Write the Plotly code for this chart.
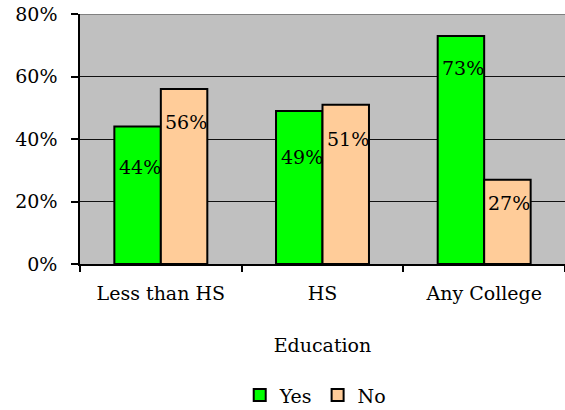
import plotly.graph_objects as go

categories = ["Less than HS", "HS", "Any College"]
yes_values = [0.44, 0.49, 0.73]
no_values = [0.56, 0.51, 0.27]
y_tick_values = [0, 0.2, 0.4, 0.6, 0.8]
y_tick_labels = ["0%", "20%", "40%", "60%", "80%"]

# label placement (style): distance in px from bar top down to label centre
yes_label_drop = [40, 46, 32]
no_label_drop = [33, 34, 23]

FONT = "DejaVu Serif"
FS = 19
GREEN = "#00FF00"
PEACH = "#FFCC99"

fig = go.Figure()
fig.add_trace(go.Bar(name="Yes", x=categories, y=yes_values,
                     marker=dict(color=GREEN, line=dict(color="black", width=2))))
fig.add_trace(go.Bar(name="No", x=categories, y=no_values,
                     marker=dict(color=PEACH, line=dict(color="black", width=2))))

annotations = []
for series, values, drops, xs in [("Yes", yes_values, yes_label_drop, -21),
                                  ("No", no_values, no_label_drop, 25)]:
    for c, v, d in zip(categories, values, drops):
        annotations.append(dict(x=c, y=v, xref="x", yref="y", text=f"{round(v*100)}%",
                                showarrow=False, xshift=xs, yshift=-d,
                                xanchor="center", yanchor="middle",
                                font=dict(family=FONT, size=FS, color="black")))

fig.update_layout(
    width=565, height=410,
    margin=dict(l=80, r=0, t=14, b=146, autoexpand=False),
    paper_bgcolor="white", plot_bgcolor="#C0C0C0",
    barmode="group", bargap=0.425, bargroupgap=0,
    font=dict(family=FONT, size=FS, color="black"),
    showlegend=True,
    legend=dict(orientation="h", x=0.485, xanchor="center", y=-0.525, yanchor="middle",
                font=dict(family=FONT, size=FS), itemwidth=30,
                bgcolor="rgba(0,0,0,0)"),
    annotations=annotations,
    shapes=[dict(type="line", xref="paper", yref="y", x0=0, x1=1, y0=0.8, y1=0.8,
                 line=dict(color="#808080", width=2), layer="above")],
)
fig.update_yaxes(range=[0, 0.8], tickvals=y_tick_values, ticktext=y_tick_labels,
                 showgrid=True, gridcolor="#111111", gridwidth=1,
                 showline=True, linecolor="black", linewidth=1.5,
                 ticks="outside", ticklen=7, tickcolor="black", tickwidth=1.5,
                 ticklabelstandoff=10, zeroline=False, automargin=False,
                 tickfont=dict(family=FONT, size=FS))
fig.update_xaxes(showline=True, linecolor="black", linewidth=1.5,
                 ticks="outside", ticklen=6, tickcolor="black", tickwidth=1.5,
                 tickson="boundaries", showgrid=False, automargin=False,
                 ticklabelstandoff=11,
                 tickfont=dict(family=FONT, size=FS),
                 title=dict(text="Education", standoff=36, font=dict(family=FONT, size=FS)))

fig.write_html("out.html")
